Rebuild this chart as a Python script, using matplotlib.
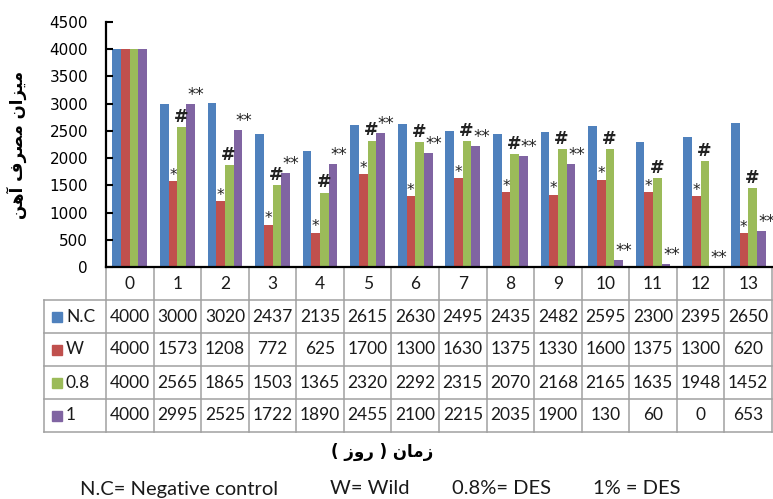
import matplotlib
matplotlib.use("Agg")
import matplotlib.pyplot as plt
import matplotlib.transforms as mtransforms
from matplotlib.lines import Line2D
from matplotlib.patches import Rectangle
import numpy as np

days = list(range(14))
series_names = ["N.C", "W", "0.8", "1"]
nc = [4000, 3000, 3020, 2437, 2135, 2615, 2630, 2495, 2435, 2482, 2595, 2300, 2395, 2650]
wild = [4000, 1573, 1208, 772, 625, 1700, 1300, 1630, 1375, 1330, 1600, 1375, 1300, 620]
des08 = [4000, 2565, 1865, 1503, 1365, 2320, 2292, 2315, 2070, 2168, 2165, 1635, 1948, 1452]
des1 = [4000, 2995, 2525, 1722, 1890, 2455, 2100, 2215, 2035, 1900, 130, 60, 0, 653]
marks = ["", "*", "#", "**"]   # significance marks, days 1-13
colors = ["#4F81BD", "#C0504D", "#9BBB59", "#8064A2"]
yticks = [0, 500, 1000, 1500, 2000, 2500, 3000, 3500, 4000, 4500]

# Persian labels written in presentation forms, visual order
ylabel = "\ufee6\ufeeb\ufe81 \ufed1\ufeae\ufebc\ufee3 \ufee5\ufe8d\ufeb0\ufef4\ufee3"
xlabel = "( \ufeaf\ufeed\ufead ) \ufee5\ufe8e\ufee3\ufeaf"
footnotes = [("N.C= Negative control", 80), ("W= Wild", 330),
             ("0.8%= DES", 452), ("1% = DES", 593)]

W, H = 773, 499
def fx(px):
    return px / W
def fy(py):
    return 1 - py / H

fig = plt.figure(figsize=(W / 100, H / 100), dpi=100)
ax = fig.add_axes([fx(106), fy(267), fx(772) - fx(106), fy(22) - fy(267)])

series = [nc, wild, des08, des1]
x = np.arange(len(days))
bw = 0.183
for i, vals in enumerate(series):
    ax.bar(x + (i - 1.5) * bw, vals, bw, color=colors[i], linewidth=0)

# significance marks above the treated series
mark_style = {
    1: dict(xytext=(0, -1), fontsize=11),
    2: dict(xytext=(-0.5, 1), fontsize=12.5, fontweight="bold"),
    3: dict(xytext=(4, 0), fontsize=12),
}
for i in range(1, 4):
    for d in days[1:]:
        v = series[i][d]
        xc = d + (i - 1.5) * bw
        ax.annotate(marks[i], (xc, v), textcoords="offset points", ha="center",
                    va="bottom", color="#222222", annotation_clip=False,
                    **mark_style[i])

ax.set_xlim(-0.5, 13.5)
ax.set_ylim(0, 4500)
ax.set_yticks(yticks)
ax.set_xticks([])
ax.tick_params(axis="y", direction="in", length=5, width=1.5, pad=13, labelsize=11)
for lab in ax.get_yticklabels():
    lab.set_family("DejaVu Sans")
for s in ["top", "right"]:
    ax.spines[s].set_visible(False)
for s in ["left", "bottom"]:
    ax.spines[s].set_linewidth(1.6)
    ax.spines[s].set_color("black")
    ax.spines[s].set_zorder(5)

# data table under the axis
grid = "#A0A0A0"
trans = mtransforms.blended_transform_factory(ax.transData, fig.transFigure)
row_edges = [267, 300, 333, 366, 399, 432]
for yy in row_edges[1:]:
    fig.add_artist(Line2D([fx(44), fx(772)], [fy(yy), fy(yy)], color=grid, lw=1.1))
for j in range(15):
    xv = -0.5 + j
    ax.add_line(Line2D([xv, xv], [fy(267), fy(432)], transform=trans, color=grid,
                       lw=1.1, clip_on=False))
fig.add_artist(Line2D([fx(44), fx(44)], [fy(300), fy(432)], color=grid, lw=1.1))

tfont = dict(family="Lato", fontsize=12.5, color="#1a1a1a")
for d in days:
    ax.text(d, fy(284), str(d), transform=trans, ha="center", va="center", **tfont)
for r, vals in enumerate(series):
    yc = (row_edges[r + 1] + row_edges[r + 2]) / 2
    fig.add_artist(Rectangle((fx(52), fy(yc + 5)), fx(10), fy(0) - fy(10),
                             color=colors[r], transform=fig.transFigure))
    fig.text(fx(66), fy(yc), series_names[r], ha="left", va="center", **tfont)
    for d in days:
        ax.text(d, fy(yc), str(vals[d]), transform=trans, ha="center", va="center", **tfont)

fig.text(fx(17), fy(145), ylabel, rotation=90, ha="center", va="center",
         family="DejaVu Sans", fontweight="bold", fontsize=12)
fig.text(fx(382), fy(452), xlabel, ha="center", va="center",
         family="DejaVu Sans", fontweight="bold", fontsize=12)
for txt, px in footnotes:
    fig.text(fx(px), fy(489), txt, ha="left", va="center", family="Lato",
             fontsize=14.5, color="#1a1a1a")

fig.savefig("out.png", dpi=100)
